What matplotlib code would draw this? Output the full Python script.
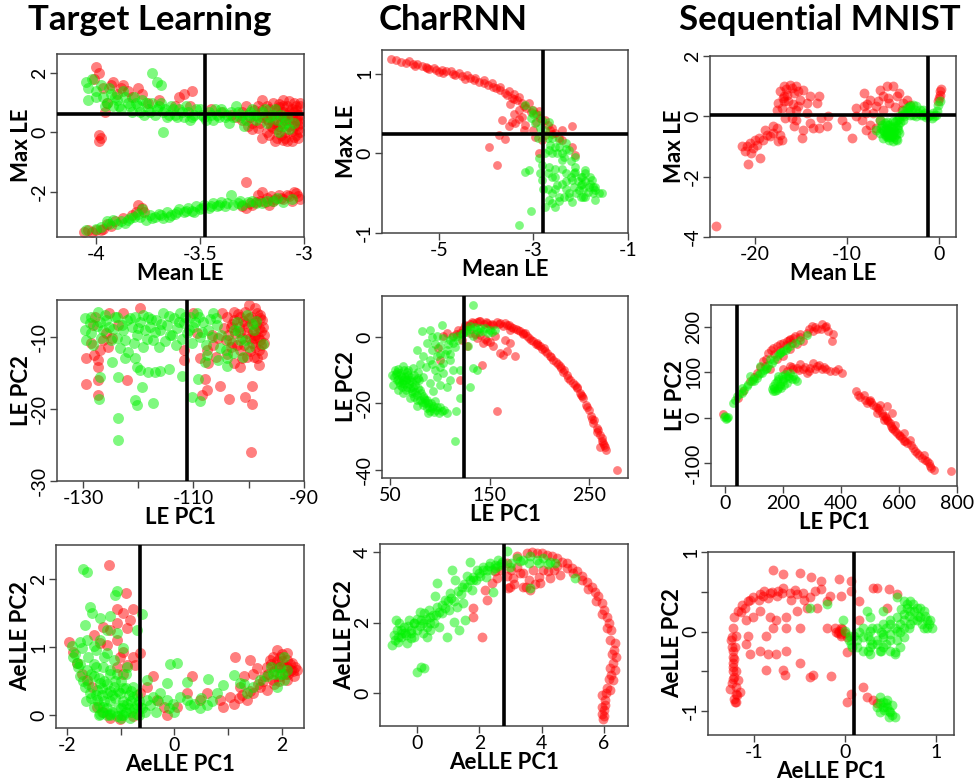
import numpy as np
import matplotlib
matplotlib.use("Agg")
import matplotlib.pyplot as plt

plt.rcParams['font.family'] = ['Lato', 'DejaVu Sans']
plt.rcParams['axes.unicode_minus'] = False

titles = ["Target Learning", "CharRNN", "Sequential MNIST"]

# ---- Target Learning: Mean LE vs Max LE
tl_max_green = [(-4.05,1.7),(-4.04,1.5),(-4.04,1.1),(-4.02,1.8),(-4.0,1.4),(-3.98,1.6),(-3.97,1.2),(-3.95,1.0),
    (-3.93,1.3),(-3.92,0.9),(-3.9,1.1),(-3.88,0.8),(-3.87,1.4),(-3.85,1.0),(-3.83,0.7),(-3.82,1.2),(-3.8,0.9),
    (-3.78,1.1),(-3.77,0.6),(-3.75,0.8),(-3.73,1.0),(-3.72,0.6),(-3.7,0.9),(-3.73,2.0),(-3.71,1.7),(-3.69,1.6),
    (-3.68,0.7),(-3.66,0.5),(-3.68,0.0),(-3.64,0.9),(-3.62,0.6),(-3.6,0.8),(-3.58,0.5),(-3.56,0.7),(-3.55,0.4),
    (-3.53,0.6),(-3.5,0.8),(-3.48,0.5),(-3.46,0.7),(-3.44,0.4),(-3.42,0.6),(-3.4,0.8),(-3.38,0.5),(-3.36,0.3),
    (-3.35,0.7),(-3.33,0.9),(-3.31,0.5),(-3.29,0.2),(-3.27,0.6),(-3.25,0.8),(-3.23,0.4),(-3.2,0.7),(-3.18,0.3),
    (-3.15,0.6),(-3.13,0.4),(-3.1,0.2),(-3.08,0.5),(-3.05,0.3),
    (-4.0,1.2),(-3.96,0.9),(-3.94,1.5),(-3.91,1.2),(-3.89,0.9),(-3.86,1.2),(-3.84,0.9),(-3.81,1.0),(-3.79,0.7),
    (-3.76,1.0),(-3.74,0.7),(-3.71,0.8),(-3.69,1.0),(-3.67,0.8),(-3.65,0.6),(-3.63,0.8),(-3.61,0.5),(-3.59,0.7),
    (-3.57,0.9),(-3.54,0.5),(-3.52,0.8),(-3.49,0.6),(-3.47,0.4),(-3.45,0.6),(-3.43,0.8),(-3.41,0.5),(-3.39,0.7),
    (-3.37,0.6),(-3.34,0.5),(-3.32,0.7),(-3.3,0.6),(-3.28,0.4),(-3.26,0.7),(-3.24,0.6),(-3.22,0.5),(-3.19,0.8),
    (-3.17,0.5),(-3.14,0.8),(-3.11,0.6),(-3.09,0.3),(-3.07,0.1),(-3.12,0.0),
    (-4.05,-3.3),(-3.98,-3.2),(-3.95,-3.0),(-3.92,-2.95),(-3.9,-3.1),(-3.86,-3.05),(-3.84,-2.9),(-3.82,-2.85),
    (-3.8,-2.75),(-3.78,-2.6),(-3.76,-2.95),(-3.74,-2.8),(-3.72,-2.85),(-3.7,-2.75),(-3.68,-2.9),(-3.66,-2.7),
    (-3.64,-2.8),(-3.62,-2.75),(-3.6,-2.6),(-3.58,-2.7),(-3.56,-2.55),(-3.54,-2.65),(-3.52,-2.5),(-3.5,-2.6),
    (-3.48,-2.45),(-3.46,-2.55),(-3.44,-2.4),(-3.42,-2.5),(-3.4,-2.35),(-3.38,-2.5),(-3.35,-2.1),(-3.32,-2.4),
    (-3.3,-2.45),(-3.27,-2.35),(-3.25,-2.3),(-3.2,-2.4),(-3.15,-2.3),(-3.13,-2.2),(-3.06,-2.25),
    (-4.0,-3.25),(-3.94,-3.1),(-3.88,-3.0),(-3.85,-2.95),(-3.79,-2.85),(-3.73,-2.9),(-3.69,-2.8),(-3.65,-2.85),
    (-3.61,-2.7),(-3.57,-2.65),(-3.53,-2.7),(-3.49,-2.55),(-3.45,-2.5),(-3.41,-2.45),(-3.37,-2.4),(-3.34,-2.45),
    (-3.31,-2.3),(-3.23,-2.4),(-3.18,-2.3),(-3.1,-2.35)]
tl_max_red = [(-4.0,2.2),(-3.99,2.0),(-4.01,1.8),(-3.97,1.5),(-3.96,0.7),(-3.99,-0.1),(-3.99,-0.3),(-3.98,-0.2),
    (-3.93,1.6),(-3.9,1.3),(-3.87,1.6),(-3.85,1.4),(-3.83,1.2),(-3.8,1.5),(-3.78,1.3),(-3.75,1.0),(-3.6,1.2),
    (-3.58,1.3),(-3.55,0.9),(-3.54,1.4),(-3.4,0.7),(-3.35,0.6),(-3.3,0.4),(-3.28,0.9),(-3.25,0.3),(-3.22,0.9),
    (-3.2,1.1),(-3.2,0.5),(-3.18,0.0),(-3.17,0.8),(-3.15,1.0),(-3.15,0.3),(-3.13,-0.2),(-3.12,0.6),(-3.1,1.1),
    (-3.1,0.9),(-3.09,0.0),(-3.08,-0.3),(-3.07,0.4),(-3.06,0.8),(-3.05,1.0),(-3.05,0.2),(-3.04,-0.1),(-3.03,0.6),
    (-3.02,0.9),(-3.02,0.3),(-3.1,0.5),(-3.12,0.2),(-3.16,0.6),(-3.07,0.7),(-3.04,0.4),(-3.2,-0.2),(-3.25,0.1),
    (-3.14,-0.3),(-3.06,-0.3),(-3.11,-0.1),(-3.03,0.1),
    (-3.21,0.3),(-3.19,0.6),(-3.18,0.9),(-3.16,0.2),(-3.14,0.5),(-3.13,0.8),(-3.11,0.3),(-3.1,0.7),(-3.09,-0.2),
    (-3.08,0.9),(-3.07,0.2),(-3.06,0.5),(-3.05,0.7),(-3.04,0.9),(-3.03,-0.2),(-3.03,0.4),(-3.02,0.6),(-3.09,0.4),
    (-3.13,0.1),(-3.17,-0.1),(-3.23,0.6),(-3.26,0.5),(-3.3,0.7),(-3.33,0.5),(-3.45,0.8),(-3.62,0.9),(-3.7,1.1),
    (-3.95,1.0),(-3.92,1.7),(-3.88,1.5),
    (-3.2,0.75),(-3.18,0.45),(-3.15,0.15),(-3.12,0.85),(-3.1,-0.25),(-3.08,0.6),(-3.06,0.05),(-3.05,-0.15),
    (-3.04,0.75),(-3.03,0.25),(-3.02,0.0),(-3.02,1.0),(-3.07,1.05),(-3.12,0.95),(-3.14,0.65),(-3.17,0.35),
    (-3.22,0.15),(-3.24,0.75),(-3.27,0.2),
    (-4.06,-3.35),(-4.02,-3.35),(-4.0,-3.3),(-3.97,-3.25),(-3.95,-3.1),(-3.93,-3.15),(-3.87,-2.9),(-3.83,-2.8),
    (-3.81,-2.7),(-3.8,-2.45),(-3.78,-2.55),(-3.77,-2.7),(-3.3,-2.5),(-3.28,-2.55),(-3.28,-1.68),(-3.25,-2.45),
    (-3.23,-2.35),(-3.22,-2.1),(-3.2,-2.0),(-3.18,-2.2),(-3.17,-2.45),(-3.15,-2.3),(-3.1,-2.25),(-3.08,-2.1),
    (-3.05,-2.0),(-3.03,-2.15),(-3.02,-2.25),(-3.06,-2.3),(-3.12,-2.1),
    (-3.26,-2.4),(-3.21,-2.3),(-3.19,-2.35),(-3.16,-2.15),(-3.14,-2.25),(-3.11,-2.2),(-3.07,-2.15),(-3.04,-2.05),
    (-4.04,-3.3),(-3.98,-3.3),(-3.91,-3.0)]

# ---- CharRNN: Mean LE vs Max LE
cr_max_red = [(-6.02,1.19),(-5.63,1.16),(-5.28,1.09),(-4.93,1.05),(-4.58,1.01),(-4.23,0.95),(-3.87,0.88),
    (-3.52,0.78),(-3.31,0.71),(-3.1,0.63),(-2.89,0.53),(-2.75,0.42),(-2.61,0.32),(-2.39,0.17),(-2.18,0.08),
    (-2.11,-0.02),(-5.45,1.13),(-5.1,1.07),(-4.75,1.03),(-4.4,0.98),(-4.05,0.92),(-3.7,0.83),(-3.42,0.75),
    (-3.66,0.42),(-3.52,0.34),(-3.38,0.38),(-3.24,0.46),(-3.17,0.36),(-3.73,0.23),(-3.59,0.18),(-3.94,0.08),
    (-3.77,-0.14),(-2.89,0.0),(-2.82,0.17),(-2.61,0.25),(-2.18,0.34),(-2.39,0.29),(-2.96,0.21),(-2.75,0.23),
    (-5.8,1.15),(-5.55,1.12),(-5.35,1.1),(-5.2,1.06),(-5.0,1.02),(-4.85,1.04),(-4.7,1.0),(-4.5,0.97),(-4.35,0.95),
    (-4.15,0.9),(-3.95,0.86),(-3.8,0.82),(-3.6,0.76),(-3.45,0.7),(-3.35,0.67),(-3.25,0.64),(-3.15,0.57),
    (-3.05,0.52),(-2.95,0.49),(-2.85,0.45),(-2.7,0.36),(-2.55,0.26),(-2.45,0.2),(-3.4,0.5),(-3.3,0.43),
    (-3.0,0.3),(-3.45,0.4),(-3.2,0.3),
    (-5.9,1.17),(-5.7,1.14),(-5.5,1.1),(-5.25,1.08),(-5.05,1.05),(-4.9,1.01),(-4.65,0.99),(-4.45,0.94),
    (-4.25,0.92),(-4.05,0.88),(-3.85,0.84),(-3.7,0.8),(-3.55,0.73),(-3.4,0.68),(-3.2,0.6),(-3.0,0.55),
    (-3.5,0.62),(-3.3,0.55),(-2.95,0.4),(-2.65,0.3)]
cr_max_green = [(-3.17,0.61),(-3.03,0.55),(-2.89,0.48),(-2.82,0.42),(-2.68,0.4),(-2.96,0.38),(-2.75,0.29),
    (-2.61,0.19),(-2.46,0.17),(-2.32,0.13),(-2.54,0.08),(-2.68,0.04),(-2.39,0.0),(-2.25,0.04),(-2.11,-0.04),
    (-2.89,-0.06),(-2.82,-0.15),(-2.68,-0.17),(-2.54,-0.19),(-3.1,-0.21),(-3.17,-0.23),(-2.82,-0.34),(-2.54,-0.29),
    (-2.32,-0.25),(-2.11,-0.23),(-1.9,-0.21),(-2.39,-0.38),(-2.18,-0.34),(-1.97,-0.29),(-1.76,-0.34),(-1.69,-0.42),
    (-1.62,-0.5),(-1.83,-0.42),(-2.04,-0.46),(-2.25,-0.5),(-2.46,-0.55),(-2.68,-0.59),(-2.75,-0.67),(-2.54,-0.67),
    (-2.18,-0.61),(-1.9,-0.55),(-1.69,-0.59),(-1.55,-0.5),(-3.06,-0.72),(-3.31,-0.9),(-2.39,-0.08),(-2.11,-0.17),
    (-1.9,-0.25),(-1.8,-0.38),(-1.97,-0.38),
    (-2.6,-0.3),(-2.4,-0.2),(-2.2,-0.3),(-2.0,-0.4),(-1.85,-0.48),(-1.75,-0.5),(-2.3,-0.45),(-2.1,-0.5),
    (-1.95,-0.55),(-2.6,-0.5),(-2.5,-0.4),(-2.7,-0.25),(-2.9,0.2),(-3.05,0.45),(-2.65,0.1),(-2.5,0.0),
    (-2.35,-0.05),(-2.2,-0.1),(-2.0,-0.3),(-2.8,-0.45),(-2.45,-0.6),(-2.15,-0.42),(-1.7,-0.46),(-3.0,0.5),
    (-2.3,-0.35),(-2.25,-0.55),(-2.15,-0.25),(-2.05,-0.35),(-1.95,-0.45),(-1.9,-0.35),(-1.8,-0.3),(-1.75,-0.42),
    (-2.0,-0.55),(-2.35,-0.55),(-2.55,-0.45),(-2.7,-0.45),(-2.6,-0.62),(-2.85,-0.25),(-2.75,0.0),(-2.6,0.0),
    (-2.45,0.08),(-2.3,0.05),(-2.85,0.32),(-2.7,0.2)]

# ---- Sequential MNIST: Mean LE vs Max LE
sm_max_red = [(-21.4,-0.99),(-21.1,-1.16),(-20.5,-0.88),(-20.4,-1.22),(-20.2,-1.05),(-19.8,-0.94),(-19.6,-0.72),
    (-19.5,-1.38),(-19.1,-0.77),(-18.7,-0.61),(-18.4,-0.66),(-18.0,-0.55),(-17.6,-0.39),(-17.3,-0.61),(-17.1,-0.77),
    (-20.8,-1.57),(-20.9,-0.97),(-20.0,-0.77),(-18.9,-0.44),(-17.5,-0.83),(-18.0,-0.33),
    (-17.5,0.44),(-17.3,0.83),(-16.9,0.99),(-16.2,1.05),(-15.5,0.99),(-14.8,0.88),(-16.5,0.72),(-15.8,0.77),
    (-15.1,0.55),(-14.4,0.44),(-14.0,0.66),(-13.3,0.44),(-13.1,0.66),(-17.1,0.28),(-16.7,-0.06),(-16.2,0.17),
    (-15.8,-0.33),(-15.5,-0.11),(-14.9,-0.72),(-14.8,-0.44),(-14.4,0.11),(-14.0,-0.22),(-13.7,-0.39),(-13.1,-0.39),
    (-12.8,-0.06),(-12.2,-0.33),(-12.1,0.0),(-16.4,0.5),(-15.3,0.33),(-16.0,-0.06),(-17.6,0.22),(-16.9,0.66),
    (-16.6,0.9),(-16.0,0.95),(-15.3,0.85),(-16.8,0.5),(-15.9,0.4),(-17.0,0.6),(-15.6,0.2),
    (-10.5,-0.11),(-10.1,-0.33),(-9.5,-0.72),(-9.0,0.28),(-8.4,-0.11),(-8.2,0.77),(-7.5,0.55),(-7.9,0.11),
    (-7.5,-0.28),(-7.3,-0.61),(-6.8,0.33),(-6.4,-0.11),(-6.1,0.66),(-5.7,0.99),(-5.4,0.44),(-5.0,0.99),(-4.6,0.66),
    (-4.3,0.77),(-3.9,0.44),(-3.5,0.55),(-6.4,0.88),(-7.2,0.11),(-8.2,0.33),(-9.0,0.0),(-6.8,-0.39),(-7.9,-0.44),
    (-6.1,0.22),(-3.2,0.39),(-5.5,0.6),(-4.8,0.3),(-4.0,0.2),(-6.6,0.5),(-7.8,0.4),
    (-0.1,0.5),(0.07,0.72),(0.14,0.83),(0.25,0.91),(0.0,0.61),(-24.3,-3.65)]
sm_max_green = [(-6.8,-0.44),(-6.4,-0.55),(-6.1,-0.72),(-5.7,-0.61),(-5.4,-0.77),(-5.0,-0.83),(-4.6,-0.77),
    (-4.4,-0.55),(-4.8,-0.33),(-5.4,-0.28),(-5.9,-0.22),(-6.4,-0.11),(-5.5,-0.44),(-5.0,-0.17),(-4.3,0.0),
    (-3.9,0.17),(-3.5,0.28),(-3.2,0.33),(-2.8,0.39),(-2.5,0.33),(-2.1,0.22),(-3.2,0.06),(-2.5,0.0),(-1.7,0.06),
    (-1.2,0.0),(-0.8,-0.06),(-0.5,0.0),(-0.2,0.17),(-0.07,0.39),(0.07,0.5),(-4.6,-0.11),(-3.9,-0.11),(-1.7,0.22),
    (-6.1,-0.44),(-5.2,-0.61),(-4.9,-0.5),(-5.6,-0.3),(-4.5,-0.3),
    (-6.0,-0.5),(-5.8,-0.4),(-5.6,-0.55),(-5.3,-0.5),(-5.1,-0.65),(-4.9,-0.7),(-4.7,-0.6),(-4.5,-0.45),
    (-5.2,-0.35),(-4.8,-0.2),(-5.8,-0.65),(-5.0,-0.4),(-4.2,-0.2),(-3.7,0.1),(-3.0,0.2),(-2.3,0.1),(-1.5,0.1),
    (-1.0,0.05),(-0.3,0.05),(-4.0,0.05),(-2.8,0.05),(-3.4,0.15),(-6.2,-0.3),(-5.5,-0.7),
    (-5.9,-0.6),(-5.4,-0.6),(-5.0,-0.55),(-4.7,-0.75),(-4.6,-0.4),(-5.3,-0.7),(-5.6,-0.2),(-6.3,-0.4),
    (-4.4,-0.1),(-3.8,0.0),(-3.3,0.3),(-2.6,0.2),(-2.0,0.05),(-1.4,-0.02),(-0.6,0.1)]

# ---- Target Learning: LE PC1 vs LE PC2
tl_pc_green = [(-129.7,-7.45),(-129.7,-9.07),(-129.4,-10.46),(-128.8,-8.15),(-128.5,-9.54),(-128.2,-11.16),
    (-127.3,-6.53),(-127.0,-7.92),(-126.4,-9.07),(-125.8,-7.69),(-125.2,-8.61),(-124.2,-7.22),(-123.9,-10.23),
    (-123.3,-11.62),(-122.7,-9.07),(-122.1,-7.69),(-121.8,-12.08),(-121.2,-8.61),(-120.6,-7.22),(-120.3,-9.77),
    (-119.7,-7.92),(-119.1,-11.39),(-118.8,-9.07),(-118.2,-7.22),(-117.9,-8.61),(-117.3,-10.46),(-116.7,-7.69),
    (-116.1,-9.07),(-115.5,-6.76),(-114.8,-8.38),(-114.2,-9.77),(-113.6,-7.45),(-113.0,-8.84),(-112.4,-6.76),
    (-111.8,-8.15),(-111.2,-9.54),(-110.6,-7.22),(-110.0,-8.61),(-109.4,-6.76),(-108.8,-10.0),(-108.2,-7.92),
    (-107.3,-9.07),(-106.4,-6.76),(-105.8,-8.38),(-105.2,-11.62),(-103.9,-13.0),(-102.7,-9.07),(-102.1,-7.92),
    (-101.5,-10.46),(-100.3,-6.99),(-100.0,-11.39),(-99.1,-9.07),
    (-128.5,-7.2),(-127.5,-8.5),(-126.8,-10.2),(-126.0,-7.0),(-125.0,-10.5),(-124.5,-8.9),(-123.8,-7.2),
    (-123.0,-8.3),(-122.4,-10.4),(-121.5,-7.4),(-120.8,-10.8),(-120.0,-8.8),(-119.2,-7.0),(-118.5,-10.3),
    (-117.6,-7.6),(-117.0,-9.4),(-116.3,-11.4),(-115.8,-8.2),(-115.1,-10.6),(-114.5,-7.1),(-113.8,-9.8),
    (-113.2,-11.1),(-112.7,-7.9),(-112.0,-10.3),(-111.5,-7.3),(-110.8,-9.0),(-110.3,-10.9),(-109.7,-8.0),
    (-109.0,-7.3),(-108.5,-9.3),(-107.8,-11.2),(-107.0,-7.5),(-106.6,-10.1),(-106.0,-7.4),(-105.0,-9.8),
    (-104.2,-11.8),(-103.5,-10.4),(-102.9,-12.2),(-101.9,-9.2),(-101.0,-12.8),(-100.6,-10.5),(-99.5,-8.2),
    (-98.6,-7.8),(-97.5,-11.0),(-108.0,-13.5),(-107.5,-12.5),(-104.0,-14.0),
    (-127.0,-15.56),(-127.1,-18.56),(-124.8,-13.47),(-123.6,-15.56),(-123.6,-21.25),(-123.6,-24.35),(-122.4,-13.0),
    (-120.6,-13.0),(-120.3,-14.17),(-119.7,-14.63),(-119.4,-16.94),(-120.6,-18.8),(-120.3,-19.5),(-118.2,-14.86),
    (-116.9,-14.86),(-116.1,-14.72),(-117.3,-19.17),(-114.4,-14.4),(-112.1,-15.4),(-110.3,-18.3),(-109.1,-15.8),
    (-108.8,-18.9),(-105.5,-13.2)]
tl_pc_red = [(-103.9,-7.22),(-103.3,-8.61),(-102.7,-7.69),(-102.4,-9.54),(-101.8,-8.61),(-101.5,-7.22),
    (-101.2,-10.23),(-100.6,-8.15),(-100.3,-9.54),(-100.0,-7.45),(-99.4,-10.9),(-99.1,-8.15),(-98.8,-9.77),
    (-98.5,-6.76),(-98.2,-8.84),(-97.9,-10.46),(-97.6,-7.69),(-98.2,-11.85),(-99.1,-12.78),(-100.3,-12.78),
    (-101.5,-14.17),(-102.7,-13.7),(-98.2,-13.93),(-98.5,-13.0),(-100.0,-5.6),(-98.8,-6.07),(-100.6,-6.53),
    (-102.7,-6.53),(-104.8,-6.76),(-104.5,-8.84),(-105.5,-10.23),(-106.4,-11.16),(-107.6,-11.85),(-107.3,-13.7),
    (-107.6,-17.4),(-107.9,-15.8),(-108.5,-18.1),(-105.2,-16.85),(-103.6,-18.56),(-100.6,-18.3),(-99.4,-16.85),
    (-99.4,-19.26),(-99.6,-25.97),(-101.5,-11.85),(-103.3,-11.39),(-97.8,-9.2),(-98.0,-7.0),(-99.0,-10.2),
    (-104.2,-10.5),(-103.7,-9.7),(-103.0,-8.2),(-102.2,-11.1),(-101.6,-9.4),(-101.0,-7.8),(-100.8,-11.2),
    (-100.2,-8.6),(-99.8,-10.2),(-99.6,-7.2),(-99.2,-9.3),(-98.9,-11.4),(-98.6,-8.4),(-98.3,-10.1),(-98.0,-7.4),
    (-97.8,-11.2),(-97.5,-8.6),(-97.3,-9.8),(-97.2,-10.9),(-97.6,-12.4),(-99.7,-12.0),(-101.2,-13.0),(-102.0,-6.9),
    (-103.0,-10.8),(-104.0,-12.4),(-105.9,-12.8),(-106.7,-9.7),(-108.8,-12.9),
    (-129.4,-13.0),(-129.4,-16.5),(-127.3,-13.2),(-127.3,-14.17),(-127.3,-16.0),(-127.3,-18.1),(-127.0,-11.85),
    (-126.4,-10.46),(-125.8,-9.54),(-125.5,-11.39),(-128.2,-8.38),(-127.9,-7.22),(-125.2,-6.76),(-122.7,-6.76),
    (-122.1,-16.0),(-119.7,-6.07),(-111.8,-13.2),(-111.8,-11.85),(-110.0,-6.76),(-109.4,-9.54),(-128.6,-10.8),
    (-128.0,-12.5),(-124.8,-10.2),(-123.6,-8.4)]

# ---- CharRNN: LE PC1 vs LE PC2
cr_pc_red = [(113.5,0.2),(120.2,1.2),(126.9,3.2),(133.6,4.2),(140.3,4.7),(147.0,4.2),(153.7,3.7),(160.4,4.2),
    (167.1,3.7),(173.8,2.7),(180.4,1.7),(187.1,0.2),(193.8,-1.3),(200.5,-2.8),(207.2,-4.8),(213.9,-6.8),
    (220.6,-8.8),(227.3,-11.4),(234.0,-13.9),(240.6,-16.9),(247.3,-20.4),(252.3,-23.9),(257.4,-27.4),(262.4,-30.5),
    (267.4,-34.0),(278.1,-40.0),(170.4,2.2),(183.8,1.2),(197.2,-1.8),(210.5,-5.8),(223.9,-10.4),(237.3,-14.9),
    (244.0,-18.4),(254.0,-25.9),(260.7,-29.4),(264.0,-32.0),(260.7,-33.0),
    (116,0.8),(123,2.5),(130,3.8),(137,4.4),(144,4.0),(150,3.5),(157,4.4),(163,3.3),(170,3.5),(177,2.3),(184,0.9),
    (190,-0.4),(197,-2.2),(203,-3.6),(205,-3.2),(217,-7.5),(225,-10.0),(231,-13.0),(238,-15.5),(243,-17.8),
    (250,-22),(255,-25),(258,-28.5),(263,-31.2),(266,-33),(145,-0.5),(150,-1.5),(165,-1.0),(135,1.0),(140,0.5),
    (155,0.3),
    (118,2),(125,3.5),(132,4.5),(139,4.8),(146,4.6),(152,4.0),(159,3.9),(166,4.2),(172,3.0),(179,2.0),(186,1.2),
    (192,-0.8),(199,-2.5),(206,-4.2),(212,-6.0),(219,-8.2),(222,-9.4),(229,-12.2),(236,-14.5),(242,-17.5),
    (248,-21),(253,-24.8),(259,-28),(265,-32.5),
    (130.3,1.2),(137.0,-0.3),(143.6,-1.8),(153.7,-2.8),(160.4,-4.8),(167.1,-4.3),(170.4,-1.8),(175.4,-5.8),
    (163.7,-5.3),(142.0,-8.3),(157.0,-22.4),(106.9,1.2),(103.5,0.2),(98.5,-3.3),(100.2,-6.8),(120.2,-12.9),
    (126.9,-2.8),(147.0,-1.3),(121.9,-0.8)]
cr_pc_green = [(101.8,3.7),(96.8,0.2),(103.5,-0.3),(110.2,-0.8),(113.5,-1.8),(116.9,0.2),(123.6,1.2),(126.9,2.2),
    (130.3,3.2),(137.0,2.2),(140.3,2.7),(143.6,1.7),(150.3,2.2),(155.4,2.2),(133.6,0.2),(128.6,-2.8),(133.6,9.7),
    (90.1,2.2),(81.8,1.7),(86.8,-1.8),(91.8,-3.8),(100.2,-2.8),(106.9,-3.8),
    (76.8,-3.8),(83.4,-5.8),(90.1,-6.8),(96.8,-5.8),(103.5,-7.8),(110.2,-6.8),(113.5,-9.8),(120.2,-9.8),
    (103.5,-10.9),(110.2,-12.9),(96.8,-11.9),(90.1,-13.9),(83.4,-11.9),(93.4,-16.4),(100.2,-14.4),(106.9,-14.9),
    (120.2,-18.4),(130.3,-14.9),(133.6,-9.3),(137.0,-9.8),(115.2,-31.2),(116.2,-22.4),(85.1,-18.9),
    (51.7,-11.4),(55.0,-9.8),(56.7,-12.9),(60.0,-10.9),(61.7,-13.9),(65.1,-11.9),(66.7,-14.9),(70.1,-12.9),
    (71.7,-16.4),(75.1,-14.4),(76.8,-17.4),(80.1,-18.9),(83.4,-20.4),(86.8,-21.4),(90.1,-22.4),(93.4,-20.9),
    (95.2,-19.4),(101.8,-22.4),(106.9,-22.9),(58.4,-15.9),(63.4,-16.9),(70.1,-18.4),(68.4,-9.8),(73.4,-9.3),
    (78.4,-10.4),(53.4,-14.4),(63.4,-8.8),(76.8,-20.9),(83.4,-17.9),(88.4,-22.9),
    (54,-12),(57,-10.5),(59,-13.5),(62,-12),(64,-10),(66,-13),(68,-11.5),(70,-15.5),(72,-13.5),(74,-11.5),
    (75,-16.5),(78,-15.5),(79,-13),(81,-17),(82,-19.5),(85,-20),(87,-19),(89,-21),(92,-21.5),(94,-22.5),(97,-21),
    (99,-23),(104,-22),(60,-14.5),(63,-12.8),(67,-10.5),(71,-12),(74,-18),(78,-12.2),(80,-8),(86,-9),(92,-8),
    (95,-10),(100,-9),(105,-5),(108,-2),(112,0),(118,-1),(122,0.8),(126,1.5),(131,2.5),(135,3),(139,1.5),
    (145,2.8),(148,1.2),(152,1.6),
    (56,-11),(58,-9.5),(61,-11.5),(64,-14),(67,-12.5),(69,-14),(73,-15),(76,-13),(80,-16),(84,-18.5),(88,-20),
    (91,-20),(96,-22),(100,-21),(58,-12.5),(62,-15),(66,-16),(72,-17),(77,-19),(110,-5),(115,-3),(100,-5),
    (95,-2),(92,0)]

# ---- Sequential MNIST: LE PC1 vs LE PC2
sm_pc_red = [(46,44),(63,59),(86,81),(109,99),(132,125),(150,143),(167,154),(190,162),(213,169),(236,176),
    (259,184),(282,187),(299,202),(317,195),(334,206),(345,199),(357,191),(374,184),(368,169),(178,129),(201,136),
    (224,151),(247,162),(155,107),(138,114),(224,173),(270,169),(305,191),
    (100,90),(120,112),(140,130),(160,148),(180,158),(200,165),(220,172),(240,180),(260,178),(290,195),(310,200),
    (330,195),(350,202),(170,140),(190,150),(210,160),(230,165),
    (201,107),(224,114),(247,110),(270,107),(293,110),(305,121),(317,114),(334,107),(340,112),(363,103),(391,107),
    (403,99),(259,118),(282,99),(236,107),(215,102),(230,112),(255,105),(275,112),(290,102),(310,108),(325,115),
    (350,108),(380,103),
    (452,59),(460,51),(483,40),(501,40),(512,29),(529,22),(541,11),(553,4),(558,-4),(570,-11),(576,-22),(587,-29),
    (599,-37),(610,-44),(628,-55),(650,-66),(662,-77),(679,-88),(696,-96),(708,-107),(719,-114),(779,-118),
    (478,51),(524,11),(547,-4),(587,-15),(616,-33),(639,-48),(685,-81),(535,29),(489,33),(558,26),(576,11),
    (616,-51),(465,45),(495,37),(505,34),(520,24),(532,18),(545,5),(555,0),(563,-8),(572,-17),(580,-25),(592,-33),
    (604,-41),(620,-50),(640,-60),(655,-72),(670,-82),(688,-92),(702,-100),(712,-110),(-8,9)]
sm_pc_green = [(0,4),(6,0),(12,2),(3,-2),(-3,2),
    (29,33),(43,48),(58,55),(75,70),(92,81),(109,88),(127,99),(144,110),(161,121),(178,136),(201,147),(224,158),
    (282,182),(86,92),(121,114),(155,129),(190,142),(213,154),(58,66),
    (35,40),(50,52),(65,62),(80,75),(98,85),(115,95),(133,104),(150,116),(168,128),(185,140),(195,145),(210,150),
    (240,165),(260,172),(100,80),(120,98),(140,108),
    (161,63),(173,77),(184,85),(196,92),(207,96),(219,92),(230,85),(247,81),(173,59),(190,70),(213,77),(184,92),
    (201,85),(167,70),(184,66),(224,99),(165,58),(178,62),(190,75),(200,80),(210,90),(220,88),(235,92),(240,85),
    (180,80),(195,65),(205,72),(170,65)]

# ---- Target Learning: AeLLE PC1 vs PC2
tl_ae_green = [(-1.70,2.15),(-1.63,2.11),(-1.07,1.83),(-1.10,1.77),(-1.57,1.59),(-1.53,1.5),(-1.38,1.42),
    (-1.19,1.45),(-1.26,1.25),(-1.07,1.2),(-0.6,1.48),(-0.7,1.25),(-1.66,1.33),(-1.75,1.08),(-1.91,1.01),
    (-1.88,0.86),(-1.81,0.76),(-1.72,0.98),(-1.63,1.11),(-1.5,1.01),(-1.38,1.11),(-1.26,0.91),(-1.13,0.81),
    (-0.95,0.98),(-0.88,0.71),(-1.63,0.66),(-1.5,0.57),(-1.38,0.47),(-1.75,0.57),(-1.66,0.42),(-1.57,0.32),
    (-1.44,0.22),(-1.32,0.12),(-1.19,0.02),(-1.07,-0.02),(-0.95,0.0),(-0.82,-0.05),(-0.7,0.02),(-1.38,0.02),
    (-1.26,0.32),(-1.13,0.42),(-1.01,0.32),(-0.88,0.17),(-0.76,0.27),(-1.07,0.61),(-1.19,0.66),(-1.32,0.71),
    (-1.44,0.37),(-1.5,0.12),(-0.76,0.42),(-0.64,0.12),(-0.51,0.22),(-0.39,0.27),(-0.26,0.32),(-0.14,0.22),
    (-0.02,0.17),(0.11,0.27),(0.23,0.22),(0.36,0.17),(0.48,0.1),(0.6,0.15),(0.62,0.53),(0.79,0.32),(0.91,0.44),
    (1.1,0.59),(1.22,0.47),(1.35,0.32),(1.47,0.42),(1.6,0.52),(1.72,0.57),(1.84,0.61),(1.97,0.71),(2.03,0.85),
    (2.09,0.66),(2.03,0.52),(1.91,0.42),(-0.08,0.75),(0.05,0.76),(-0.14,0.47),(0.23,0.49),(-0.51,0.52),
    (-1.2,0.2),(-1.0,0.1),(-0.9,0.4),(-1.35,0.3),(-1.1,0.5),(-0.8,0.05),
    (-1.85,0.9),(-1.8,0.7),(-1.7,0.5),(-1.6,0.45),(-1.55,0.25),(-1.45,0.3),(-1.4,0.15),(-1.35,0.05),(-1.3,0.2),
    (-1.25,0.1),(-1.2,0.35),(-1.15,0.05),(-1.1,0.25),(-1.05,0.1),(-1.0,0.0),(-0.95,0.2),(-0.9,0.05),(-0.85,0.3),
    (-0.8,0.2),(-0.75,0.1),(-0.7,0.15),(-0.65,0.0),(-0.6,0.1),(-1.4,0.55),(-1.5,0.75),(-1.6,0.85),(-1.3,0.5),
    (-1.2,0.6),(-1.0,0.5),(-0.9,0.6),(-0.95,0.4),(-1.3,0.85),(-1.45,0.95),(-1.25,0.0),(-0.45,0.15),(-0.3,0.2),
    (-0.1,0.1),(0.3,0.15),(0.7,0.2),(1.3,0.45),(1.8,0.7),(1.9,0.6),(2.0,0.6),
    (-1.55,0.6),(-1.45,0.7),(-1.35,0.4),(-1.25,0.45),(-1.15,0.3),(-1.05,0.35),(-0.95,0.15),(-0.85,0.1),
    (-0.8,0.35),(-0.7,0.3),(-0.65,0.2),(-1.65,0.2),(-1.75,0.75),(-1.2,0.0),(-1.0,-0.05),(-1.4,0.0),(-0.55,0.05),
    (-0.35,0.05),(0.0,0.05),(0.5,0.25)]
tl_ae_red = [(-1.22,2.2),(-0.9,1.79),(-1.07,1.56),(-0.95,1.5),(-0.76,1.56),(-0.82,1.4),(-0.88,1.28),(-1.07,1.35),
    (-1.19,1.25),(-1.32,1.3),(-1.5,1.18),(-1.38,1.06),(-1.26,1.03),(-1.07,1.11),(-0.95,0.93),(-1.01,0.86),
    (-0.88,0.74),(-0.76,0.86),(-0.73,0.74),(-0.64,0.91),(-0.95,0.61),(-1.07,0.71),(-1.96,1.08),(-1.88,0.93),
    (-1.81,0.76),(-1.72,0.61),(-1.63,0.52),(-1.53,0.42),(-1.44,0.12),(-1.32,0.05),(-1.19,-0.05),(-1.01,-0.06),
    (-0.76,-0.02),(-0.64,0.32),(-0.51,0.42),(-0.4,0.58),(-0.33,0.22),(-0.2,0.12),(-0.14,0.0),(0.05,0.12),
    (0.23,0.32),(0.33,0.57),(0.48,0.22),(0.6,0.32),(0.85,0.22),(1.04,0.27),(1.13,0.86),(1.22,0.42),(1.29,0.57),
    (1.41,0.81),(1.47,0.61),(1.53,0.69),(1.6,0.42),(1.66,0.57),(1.72,0.71),(1.78,0.81),(1.84,0.86),(1.91,0.71),
    (1.97,0.86),(2.03,0.71),(2.09,0.81),(2.16,0.66),(2.22,0.57),(2.19,0.76),(2.09,0.52),(1.84,0.52),(1.72,0.37),
    (1.47,0.32),(1.35,0.22),(1.1,0.17),(0.91,0.12),(2.09,0.91),(1.97,0.57),(2.28,0.66),
    (1.75,0.6),(1.8,0.75),(1.85,0.65),(1.9,0.8),(1.95,0.7),(2.0,0.8),(2.05,0.6),(2.1,0.7),(2.15,0.75),(2.2,0.65),
    (2.12,0.6),(1.95,0.5),(1.85,0.45),(1.65,0.5),(1.55,0.45),(1.4,0.35),(1.25,0.3),(1.2,0.25),(2.25,0.7),(2.0,0.9),
    (1.9,0.95)]

# ---- CharRNN: AeLLE PC1 vs PC2
cr_ae_red = [(2.88,3.69),(3.2,3.88),(3.52,3.97),(3.84,3.97),(4.16,3.92),(4.48,3.83),(4.8,3.69),(5.12,3.45),
    (5.44,3.16),(5.7,2.88),(5.92,2.55),(6.08,2.17),(6.24,1.79),(6.34,1.41),(6.38,1.03),(6.34,0.65),(6.29,0.36),
    (6.18,0.08),(6.02,-0.21),(5.99,-0.49),(5.97,-0.73),(6.02,-0.35),(6.29,0.84),(6.31,1.22),(6.16,1.98),
    (5.99,2.36),(5.81,2.74),(5.6,3.02),(5.28,3.31),(4.96,3.54),(4.64,3.73),(4.32,3.88),(4.0,3.97),(3.68,3.99),
    (2.99,3.02),(3.09,3.26),(3.41,3.02),(3.62,2.93),(3.94,3.12),(4.26,3.26),(4.58,3.35),(3.41,3.4),(3.73,3.5),
    (4.05,3.5),(3.2,3.59),(2.88,3.31),(2.56,3.26),(2.4,3.12),(2.19,2.93),(2.24,2.64),(1.79,2.4),(1.81,2.17),
    (2.08,1.58),(2.93,2.97),(5.95,-0.6),(6.05,0.0),(6.22,0.5),
    (3.0,3.5),(3.3,3.4),(3.6,3.2),(3.9,3.3),(4.2,3.45),(4.5,3.6),(4.8,3.55),(5.0,3.4),(5.3,3.2),(5.5,2.95),
    (5.75,2.6),(5.95,2.25),(6.1,1.85),(6.2,1.5),(6.25,1.1),(6.2,0.7),(6.15,0.4),(6.1,0.15),(5.95,-0.05),
    (5.92,-0.4),(6.0,-0.65),(3.1,3.1),(3.5,3.0),(3.8,3.1),(4.4,3.5),(2.7,3.5),(2.5,3.45)]
cr_ae_green = [(-0.8,1.36),(-0.75,1.64),(-0.64,1.79),(-0.53,1.6),(-0.43,1.88),(-0.32,1.41),(-0.27,2.07),
    (-0.21,1.69),(-0.11,1.98),(0.0,1.79),(0.11,2.07),(0.21,2.26),(0.32,1.88),(0.32,1.6),(0.43,2.17),(0.53,1.98),
    (0.64,2.45),(0.69,1.88),(0.64,3.12),(0.8,2.26),(0.91,2.64),(0.96,1.6),(1.07,2.83),(1.12,3.5),(1.17,2.02),
    (1.23,3.21),(1.28,2.45),(1.33,1.79),(1.44,3.02),(1.49,2.55),(1.55,2.07),(1.6,3.31),(1.71,3.73),(1.76,2.93),
    (1.81,3.21),(1.92,3.5),(2.03,3.31),(2.13,3.59),(2.24,3.5),(2.35,3.69),(2.45,2.88),(2.51,3.64),(2.61,3.78),
    (2.72,3.73),(2.88,4.02),(2.99,3.59),(3.2,3.83),(3.41,3.78),(3.62,3.88),(3.84,3.78),(4.05,3.83),(4.26,3.73),
    (4.42,3.69),(3.62,2.97),(5.07,3.26),(0.11,0.74),(0.0,0.6),(0.21,0.72),(-0.69,2.07),(-0.59,1.98),(-0.48,1.69),
    (-0.37,1.64),(-0.11,1.6),(0.37,2.36),(0.59,2.74),(1.01,2.36),
    (-0.7,1.5),(-0.6,1.6),(-0.5,1.8),(-0.4,1.7),(-0.3,1.9),(-0.2,1.8),(-0.1,2.0),(0.0,2.1),(0.1,1.9),(0.2,2.0),
    (0.3,2.1),(0.4,2.0),(0.5,2.2),(0.6,2.2),(0.7,2.3),(0.8,2.5),(0.9,2.4),(1.0,2.6),(1.1,2.7),(1.2,2.6),(1.3,2.9),
    (1.4,2.8),(1.5,3.1),(1.6,3.0),(1.7,3.2),(1.8,3.3),(1.9,3.2),(2.0,3.4),(2.1,3.5),(2.2,3.3),(2.3,3.6),(2.4,3.5),
    (2.5,3.55),(2.6,3.6),(2.7,3.65),(3.0,3.7),(3.3,3.75),(3.6,3.7),(3.9,3.7),(4.2,3.65),(-0.6,1.45),(-0.2,1.55),
    (0.2,1.7),(0.4,1.8),(0.1,2.3)]

# ---- Sequential MNIST: AeLLE PC1 vs PC2
sm_ae_red = [(-0.79,0.78),(-0.68,0.72),(-0.5,0.74),(-0.37,0.68),(-0.26,0.64),(-0.07,0.66),(0.07,0.64),(0.07,0.51),
    (0.15,0.39),(-0.04,0.45),(-0.17,0.45),(-0.26,0.53),(-0.33,0.51),(-0.39,0.43),(-0.46,0.49),(-0.53,0.47),
    (-0.61,0.49),(-0.68,0.55),(-0.74,0.51),(-0.83,0.49),(-0.89,0.51),(-0.94,0.47),(-1.01,0.43),(-1.07,0.39),
    (-1.13,0.33),(-1.18,0.26),(-1.22,0.18),(-1.24,0.05),(-1.25,-0.07),(-1.25,-0.2),(-1.24,-0.32),(-1.24,-0.45),
    (-1.22,-0.57),(-1.2,-0.7),(-1.21,-0.88),(-1.27,-0.72),(-1.16,-0.76),(-1.18,-0.61),(-1.09,0.14),(-1.01,0.18),
    (-0.94,0.26),(-0.83,0.18),(-0.76,0.14),(-0.65,0.18),(-0.53,0.26),(-0.42,0.3),(-0.31,0.3),(-0.2,0.39),
    (-0.2,0.05),(-0.11,0.05),(-0.07,0.01),(-0.04,-0.03),(0.02,-0.07),(-0.5,0.05),(-0.65,0.05),(-0.79,0.05),
    (-0.87,-0.05),(-1.07,-0.05),(-1.09,-0.15),(-1.05,-0.28),(-0.94,-0.24),(-0.85,-0.28),(-0.76,-0.28),(-0.65,-0.24),
    (-0.87,-0.48),(-0.68,-0.48),(-0.66,-0.55),(-0.5,-0.4),(-0.39,-0.57),(-0.35,-0.55),(-0.15,-0.56),(0.02,-0.26),
    (0.15,0.14),(0.31,0.55),(0.35,0.55),(0.48,0.53),(0.57,0.47),(0.46,0.3),(0.02,-0.88),(0.07,-0.78),(0.2,-0.7),
    (0.24,-0.82),(0.31,-0.86),(0.35,-0.9),(-1.2,-0.89),(-1.23,-0.4),
    (-1.2,-0.5),(-1.23,-0.6),(-1.21,-0.2),(-1.19,-0.8),(-1.22,-0.35),(-1.1,0.3),(-0.95,0.4),(-0.85,0.42),
    (-0.8,0.5),(-0.75,0.45),(-0.6,0.4),(-0.45,0.4),(-0.1,0.0),(-0.05,-0.05),(0.0,-0.02),(-0.03,0.03),
    (-1.26,-0.1),(-1.24,-0.25),(-1.23,-0.5),(-1.25,-0.65),(-1.2,-0.78),(-1.22,-0.85),(-1.2,-0.05),(-1.15,0.25),
    (-1.05,0.4),(-0.9,0.45),(-0.7,0.48),(-0.55,0.52),(-0.05,0.05),(-0.08,-0.02)]
sm_ae_green = [(-0.39,0.3),(-0.2,0.35),(-0.02,0.14),(0.0,0.01),(0.04,-0.11),(0.06,-0.15),(0.13,-0.11),(0.2,-0.07),
    (0.28,-0.11),(0.35,-0.15),(0.42,-0.2),(0.5,-0.24),(0.55,-0.26),(0.39,-0.24),(0.28,-0.2),(0.2,0.05),(0.28,0.01),
    (0.35,0.05),(0.42,0.1),(0.5,0.14),(0.57,0.18),(0.65,0.22),(0.72,0.26),(0.79,0.3),(0.83,0.18),(0.9,0.14),
    (0.96,0.05),(0.94,0.14),(0.87,0.05),(0.79,0.14),(0.72,0.1),(0.65,0.05),(0.57,0.01),(0.5,-0.03),(0.42,-0.03),
    (0.68,0.35),(0.65,0.39),(0.57,0.43),(0.72,0.39),(0.76,0.26),(0.87,0.26),(0.24,0.26),(0.28,0.18),(0.42,0.26),
    (0.65,-0.07),(0.57,-0.11),(0.42,-0.07),(0.13,-0.2),(0.2,-0.24),(0.28,-0.28),(0.39,-0.82),(0.42,-0.88),
    (0.46,-0.95),(0.5,-1.01),(0.55,-1.07),(0.46,-0.86),(0.42,-0.95),(0.52,-0.92),(0.39,-1.01),(0.48,-1.07),
    (0.35,-0.95),
    (0.1,-0.05),(0.15,0.0),(0.25,-0.05),(0.3,0.05),(0.35,-0.1),(0.4,0.0),(0.45,0.05),(0.5,0.1),(0.55,0.05),
    (0.6,0.1),(0.65,0.15),(0.7,0.2),(0.75,0.15),(0.8,0.2),(0.85,0.1),(0.9,0.05),(0.92,0.1),(0.7,0.05),(0.62,0.28),
    (0.68,0.3),(0.75,0.35),(0.82,0.3),(0.88,0.2),(0.6,0.0),(0.45,-0.15),(0.5,-0.1),(0.4,-0.25),(0.3,-0.15),
    (0.25,-0.25),(0.08,-0.2),(0.05,-0.05),(0.48,-1.0),(0.45,-0.9),(0.52,-1.05),(0.43,-0.98),(0.38,-0.9),
    (0.55,-0.28),(0.6,-0.2)]

W, H = 979, 782
fig = plt.figure(figsize=(W / 100, H / 100), dpi=100)

panels = [
    dict(box=(57, 54, 304, 237), xlim=(-4.19, -3.0), ylim=(-3.53, 2.64),
         xt=[-4, -3.5, -3], xl=['-4', '-3.5', '-3'], yt=[2, 0, -2], yl=['2', '0', '-2'],
         h=0.62, v=-3.476, lab=('Mean LE', 'Max LE'), s=62, red=tl_max_red, green=tl_max_green),
    dict(box=(382, 50, 628, 233), xlim=(-6.2, -1.0), ylim=(-1.0, 1.3),
         xt=[-5, -3, -1], xl=['-5', '-3', '-1'], yt=[1, 0, -1], yl=['1', '0', '-1'],
         h=0.25, v=-2.8, lab=('Mean LE', 'Max LE'), s=40, red=cr_max_red, green=cr_max_green),
    dict(box=(710, 56, 956, 237), xlim=(-24.9, 1.85), ylim=(-4, 2),
         xt=[-20, -10, 0], xl=['-20', '-10', '0'], yt=[2, 0, -2, -4], yl=['2', '0', '-2', '-4'],
         h=0.05, v=-1.2, lab=('Mean LE', 'Max LE'), s=50, red=sm_max_red, green=sm_max_green),
    dict(box=(57, 300, 304, 481), xlim=(-134.7, -90), ylim=(-30, -4.9),
         xt=[-130, -120, -110, -100, -90], xl=['-130', '', '-110', '', '-90'], yt=[-10, -20, -30], yl=['-10', '-20', '-30'],
         h=None, v=-111.1, lab=('LE PC1', 'LE PC2'), s=62, red=tl_pc_red, green=tl_pc_green),
    dict(box=(382, 296, 628, 478), xlim=(42, 289), ylim=(-42.4, 12.3),
         xt=[50, 150, 250], xl=['50', '150', '250'], yt=[0, -20, -40], yl=['0', '-20', '-40'],
         h=None, v=124, lab=('LE PC1', 'LE PC2'), s=40, red=cr_pc_red, green=cr_pc_green),
    dict(box=(711, 305, 957, 486), xlim=(-48, 800), ylim=(-150, 248),
         xt=[0, 200, 400, 600, 800], xl=['0', '200', '400', '600', '800'], yt=[200, 100, 0, -100],
         yl=['200', '100', '0', '-100'], h=None, v=41, lab=('LE PC1', 'LE PC2'), s=40, red=sm_pc_red, green=sm_pc_green),
    dict(box=(56, 545, 304, 728), xlim=(-2.2, 2.41), ylim=(-0.19, 2.5),
         xt=[-2, -1, 0, 1, 2], xl=['-2', '', '0', '', '2'], yt=[2, 1, 0], yl=['2', '1', '0'],
         h=None, v=-0.64, lab=('AeLLE PC1', 'AeLLE PC2'), s=62, red=tl_ae_red, green=tl_ae_green),
    dict(box=(380, 544, 628, 726), xlim=(-1.19, 6.77), ylim=(-0.94, 4.23),
         xt=[0, 2, 4, 6], xl=['0', '2', '4', '6'], yt=[4, 2, 0], yl=['4', '2', '0'],
         h=None, v=2.8, lab=('AeLLE PC1', 'AeLLE PC2'), s=50, red=cr_ae_red, green=cr_ae_green),
    dict(box=(708, 552, 954, 735), xlim=(-1.51, 1.2), ylim=(-1.3, 1.0),
         xt=[-1, 0, 1], xl=['-1', '0', '1'], yt=[1, 0.5, 0, -0.5, -1], yl=['1', '', '0', '', '-1'],
         h=None, v=0.1, lab=('AeLLE PC1', 'AeLLE PC2'), s=50, red=sm_ae_red, green=sm_ae_green),
]

for p in panels:
    l, t, r, b = p['box']
    ax = fig.add_axes([l / W, 1 - b / H, (r - l) / W, (b - t) / H])
    red = np.array(p['red'])
    green = np.array(p['green'])
    ax.scatter(red[:, 0], red[:, 1], s=p['s'], color=(1, 0, 0, 0.5), linewidths=0, zorder=2)
    ax.scatter(green[:, 0], green[:, 1], s=p['s'], color=(0, 0.95, 0, 0.5), linewidths=0, zorder=3)
    if p['h'] is not None:
        ax.axhline(p['h'], color='black', lw=2.6, zorder=4)
    ax.axvline(p['v'], color='black', lw=2.6, zorder=4)
    ax.set_xlim(*p['xlim'])
    ax.set_ylim(*p['ylim'])
    ax.set_xticks(p['xt'])
    ax.set_xticklabels(p['xl'], fontsize=14)
    ax.set_yticks(p['yt'])
    ax.set_yticklabels(p['yl'], fontsize=14, rotation=90, va='center')
    ax.tick_params(direction='out', length=5, width=1, color='#444444', pad=1.5)
    for sp in ax.spines.values():
        sp.set_color('#444444')
        sp.set_linewidth(1.1)
    ax.set_xlabel(p['lab'][0], fontsize=16, fontweight='bold', labelpad=0)
    ax.set_ylabel(p['lab'][1], fontsize=16, fontweight='bold', labelpad=-1)

for txt, cx in zip(titles, [150, 453, 820]):
    fig.text(cx / W, 1 - 20 / H, txt, fontsize=25, fontweight='bold', ha='center', va='center')

fig.savefig('out.png', dpi=100)
